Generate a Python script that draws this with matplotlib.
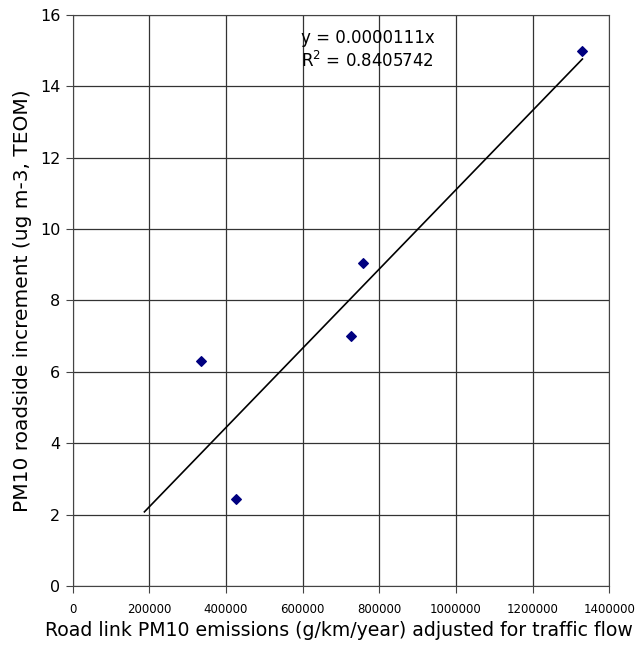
import matplotlib
matplotlib.use("Agg")
import matplotlib.pyplot as plt
import numpy as np

plt.rcParams["font.family"] = ["DejaVu Sans"]

# emissions vs roadside increment
emissions = [335000, 425000, 727000, 758000, 1330000]
increment = [6.3, 2.43, 7.0, 9.05, 15.0]
slope = 0.0000111
r2 = 0.8405742
xticks = [0, 200000, 400000, 600000, 800000, 1000000, 1200000, 1400000]
yticks = [0, 2, 4, 6, 8, 10, 12, 14, 16]

fig = plt.figure(figsize=(6.44, 6.46), dpi=100)
ax = fig.add_axes([0.113, 0.093, 0.833, 0.884])

# trendline (through origin)
xt = np.array([187000, 1330000])
ax.plot(xt, slope * xt, color="black", lw=1.2, zorder=3)
ax.scatter(emissions, increment, marker="D", s=24, color="#000080", zorder=4)

ax.set_xlim(0, 1400000)
ax.set_ylim(0, 16)
ax.set_xticks(xticks)
ax.set_yticks(yticks)
ax.set_xticklabels([str(v) for v in xticks], fontsize=8.5)
ax.set_yticklabels([str(v) for v in yticks], fontsize=11.5)
ax.grid(True, color="#333333", lw=0.9)
ax.set_axisbelow(True)
for s in ax.spines.values():
    s.set_color("#444444")
ax.tick_params(direction="out", length=5, color="#444444")
ax.tick_params(axis="x", pad=7)
ax.tick_params(axis="y", pad=4)

ax.set_xlabel("Road link PM10 emissions (g/km/year) adjusted for traffic flow",
              fontsize=13.6)
ax.xaxis.set_label_coords(0.497, -0.062)
ax.set_ylabel("PM10 roadside increment (ug m-3, TEOM)", fontsize=14.5, labelpad=6)

ax.text(0.426, 0.975, "y = 0.0000111x\n$\\mathregular{R^2}$ = %.7f" % r2,
        transform=ax.transAxes, ha="left", va="top", fontsize=12,
        linespacing=1.25)

fig.savefig("out.png", dpi=100)
